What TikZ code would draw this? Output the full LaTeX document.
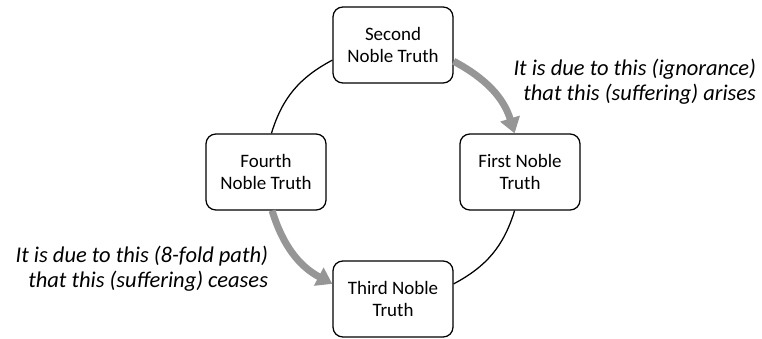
\documentclass[tikz,border=0pt]{standalone}
\usepackage{fontspec}
\setmainfont{Carlito}
\usepackage{tikz}
\usetikzlibrary{arrows.meta}

\definecolor{arrowgray}{RGB}{150,150,150}

\begin{document}
\begin{tikzpicture}[
    truth/.style={rectangle, draw, line width=0.9pt, rounded corners=7pt, minimum width=3cm, minimum height=1.9cm, align=center, fill=white, font=\fontsize{13.5}{15.8}\selectfont},
    link/.style={line width=0.9pt},
    flow/.style={-{Triangle[length=11pt, width=14pt]}, line width=5pt, arrowgray},
    note/.style={align=right, anchor=east, font=\fontsize{16}{18}\selectfont\itshape},
]
\useasboundingbox (-9.825,-4.15) rectangle (9.225,4.3);

% The four truths round the cycle
\node[truth] (second) at (0,3.175) {Second\\Noble Truth};
\node[truth] (first) at (3.175,0) {First Noble\\Truth};
\node[truth] (third) at (0,-3.175) {Third Noble\\Truth};
\node[truth] (fourth) at (-3.175,0) {Fourth\\Noble Truth};

% Plain links
\draw[link] (second.194) to[out=208, in=73] (fourth.82);
\draw[link] (first.262) to[out=253, in=28] (third.14);

% Causal arrows
\draw[flow] (second.-15) to[out=-28, in=107] (first.98);
\draw[flow] (fourth.-81) to[out=-73, in=152] (third.166);

% Labels
\node[note] (arises) at (9.2,2.25) {It is due to this (ignorance)\\that this (suffering) arises};
\node[note] (ceases) at (-3.0,-2.42) {It is due to this (8-fold path)\\that this (suffering) ceases};

\end{tikzpicture}
\end{document}
